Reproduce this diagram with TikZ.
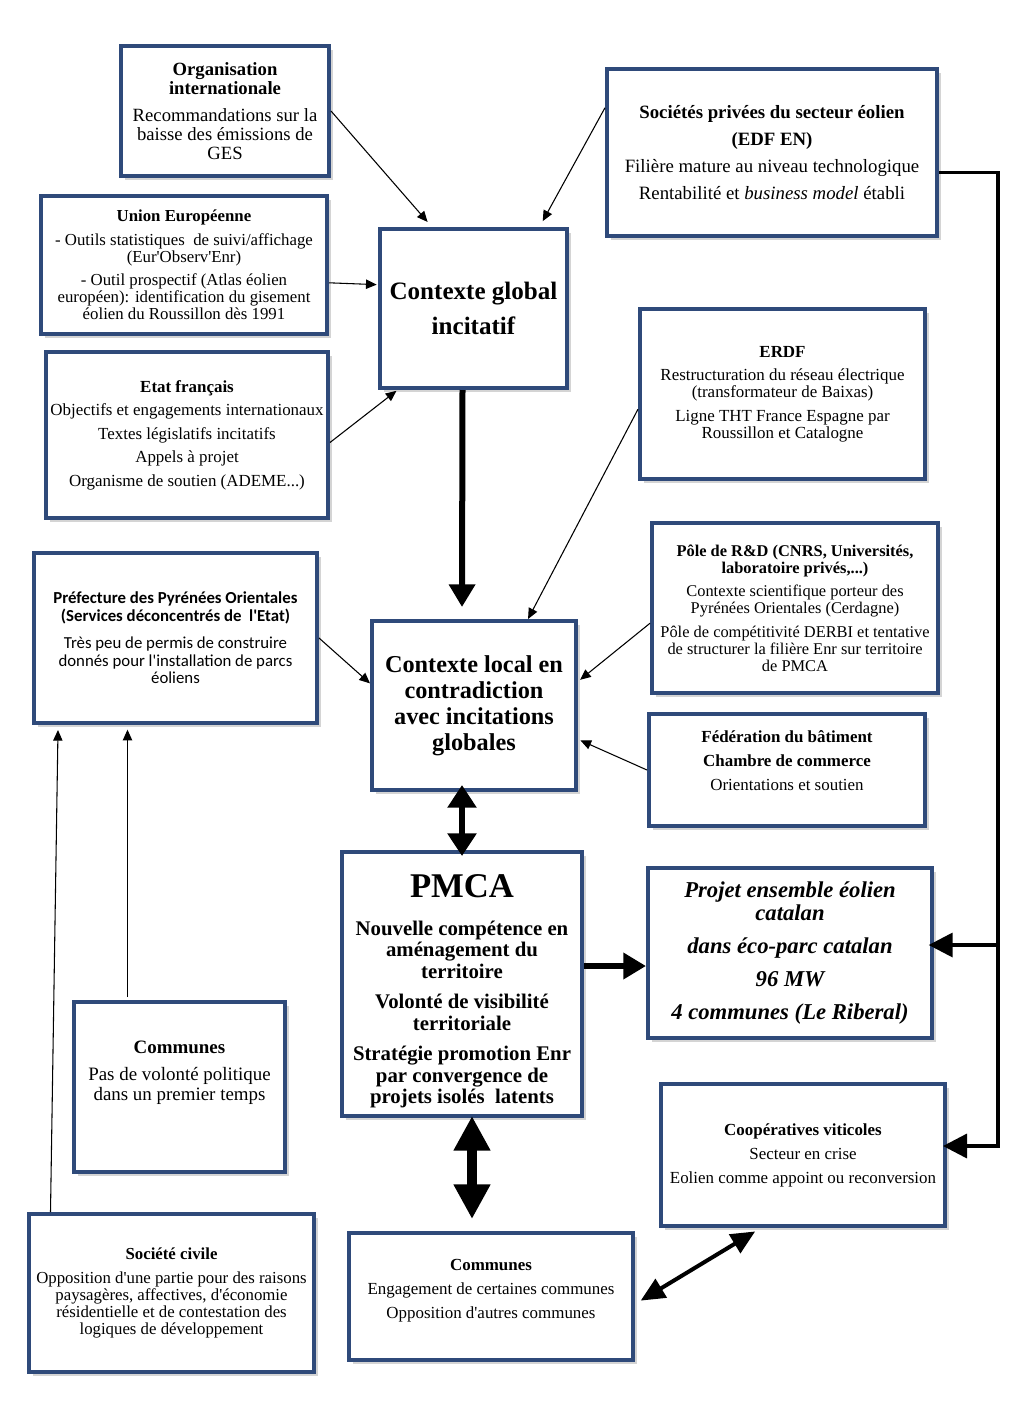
\documentclass[tikz,border=0pt]{standalone}
\usepackage{fontspec}
\setmainfont{Liberation Serif}[Ligatures=TeXOff]
\newfontfamily\calibri{Carlito}[Ligatures=TeXOff]
\usepackage{tikz}
\usetikzlibrary{calc,arrows.meta,shadows}
\definecolor{frame}{HTML}{2F4A7A}
\definecolor{ink}{HTML}{000000}
\tikzset{
  box/.style={draw=frame, line width=3pt, fill=white, align=center, inner sep=2pt,
    drop shadow={shadow xshift=3pt, shadow yshift=-3pt, fill=black!55, opacity=0.3}},
  boxsize/.style 2 args={minimum width=#1*0.75pt, minimum height=#2*0.75pt},
  link/.style={draw=ink, line width=0.8pt, -{Triangle[length=8pt,width=7pt]}},
  heavy/.style={draw=ink, line width=4.5pt, -{Triangle[length=17pt,width=19pt]}},
  heavyboth/.style={draw=ink, line width=4.5pt, {Triangle[length=17pt,width=21pt]}-{Triangle[length=17pt,width=21pt]}},
  hugeboth/.style={draw=ink, line width=7pt, {Triangle[length=26pt,width=26pt]}-{Triangle[length=26pt,width=26pt]}},
  midboth/.style={draw=ink, line width=3pt, {Triangle[length=18pt,width=16pt]}-{Triangle[length=18pt,width=16pt]}},
  rail/.style={draw=ink, line width=2.6pt, line join=miter},
  railtip/.style={-{Triangle[length=18pt,width=18pt]}},
}

\begin{document}
\begin{tikzpicture}[x=0.75pt, y=-0.75pt]
  \fill[white] (0,0) rectangle (1033,1406);
  \useasboundingbox (0,0) rectangle (1033,1406);

  % global context
  \node[box, boxsize={208}{130}, font=\fontsize{14}{14.3}\selectfont] (orgint) at (225,111)
    {\textbf{Organisation}\\\textbf{internationale}\\[6pt]Recommandations sur la\\baisse des émissions de\\GES};
  \node[box, boxsize={286}{138}, font=\fontsize{12.6}{12.75}\selectfont] (ue) at (184,265)
    {\textbf{Union Européenne}\\[5pt]- Outils statistiques\ \ de suivi/affichage\\(Eur'Observ'Enr)\\[5pt]- Outil prospectif (Atlas éolien\\européen): identification du gisement\\éolien du Roussillon dès 1991};
  \node[box, boxsize={282}{166}, font=\fontsize{12.7}{17.6}\selectfont] (etat) at (187,435)
    {\textbf{Etat français}\\Objectifs et engagements internationaux\\Textes législatifs incitatifs\\Appels à projet\\Organisme de soutien (ADEME...)};
  \node[box, boxsize={330}{167}, font=\fontsize{14.1}{20.3}\selectfont] (socpriv) at (772,152.5)
    {\textbf{Sociétés privées du secteur éolien}\\\textbf{(EDF EN)}\\Filière mature au niveau technologique\\Rentabilité et \textit{business model} établi};
  \node[box, boxsize={187}{159}, font=\bfseries\fontsize{18.8}{26}\selectfont] (cglobal) at (473.5,308.5)
    {Contexte global\\incitatif};

  % local context
  \node[box, boxsize={285}{170}, font=\fontsize{12.7}{12.75}\selectfont] (erdf) at (782.5,394)
    {\textbf{ERDF}\\[5pt]Restructuration du réseau électrique\\(transformateur de Baixas)\\[5pt]Ligne THT France Espagne par\\Roussillon et Catalogne};
  \node[box, boxsize={286}{170}, font=\fontsize{12.3}{12.75}\selectfont] (polerd) at (795,608)
    {\textbf{Pôle de R\&D (CNRS, Universités,}\\\textbf{laboratoire privés,...)}\\[5pt]Contexte scientifique porteur des\\Pyrénées Orientales (Cerdagne)\\[5pt]Pôle de compétitivité DERBI et tentative\\de structurer la filière Enr sur territoire\\de PMCA};
  \node[box, boxsize={283}{170}, font=\calibri\fontsize{12.6}{13.3}\selectfont] (prefecture) at (175.5,638)
    {\textbf{Préfecture des Pyrénées Orientales}\\\textbf{(Services déconcentrés de\ \ l'Etat)}\\[7pt]Très peu de permis de construire\\donnés pour l'installation de parcs\\éoliens};
  \node[box, boxsize={204}{169}, font=\bfseries\fontsize{18.2}{19.5}\selectfont] (clocal) at (474,705.5)
    {Contexte local en\\contradiction\\avec incitations\\globales};
  \node[box, boxsize={276}{112}, font=\fontsize{12.7}{18}\selectfont] (federation) at (787,770)
    {\textbf{Fédération du bâtiment}\\\textbf{Chambre de commerce}\\Orientations et soutien\\[-4pt]\mbox{}};

  % PMCA and project
  \node[box, boxsize={240}{264}, font=\bfseries\fontsize{15.6}{16.3}\selectfont] (pmca) at (462,984)
    {{\fontsize{26}{28}\selectfont PMCA}\\[12pt]Nouvelle compétence en\\aménagement du\\territoire\\[6.3pt]Volonté de visibilité\\territoriale\\[6.3pt]Stratégie promotion Enr\\par convergence de\\projets isolés\ \ latents\\[-24pt]\mbox{}};
  \node[box, boxsize={284}{170}, font=\bfseries\itshape\fontsize{17}{17.3}\selectfont] (projet) at (790,953)
    {Projet ensemble éolien\\catalan\\[7.5pt]dans éco-parc catalan\\[7pt]96 MW\\[7.5pt]4 communes (Le Riberal)};
  \node[box, boxsize={211}{170}, font=\fontsize{14.2}{15}\selectfont] (communesg) at (179.5,1087)
    {\textbf{Communes}\\[5pt]Pas de volonté politique\\dans un premier temps\\[9pt]\mbox{}};
  \node[box, boxsize={284}{142}, font=\fontsize{12.7}{18}\selectfont] (coop) at (803,1155)
    {\textbf{Coopératives viticoles}\\Secteur en crise\\Eolien comme appoint ou reconversion};
  \node[box, boxsize={285}{158}, font=\fontsize{12.6}{12.75}\selectfont] (societe) at (171.5,1293)
    {\textbf{Société civile}\\[5pt]Opposition d'une partie pour des raisons\\paysagères, affectives, d'économie\\résidentielle et de contestation des\\logiques de développement};
  \node[box, boxsize={284}{127}, font=\fontsize{12.7}{18}\selectfont] (communesb) at (491,1296.5)
    {\textbf{Communes}\\Engagement de certaines communes\\Opposition d'autres communes\\[-6pt]\mbox{}};

  % thin arrows
  \draw[link, shorten >=5pt] (orgint.east) -- (cglobal.117);
  \draw[link, shorten >=5pt] (socpriv.165) -- (cglobal.51);
  \draw[link, shorten >=1pt] (ue.-7) -- (cglobal.166);
  \draw[link, shorten >=1pt] (etat.-3) -- (cglobal.227);
  \draw[link] (erdf.186) -- (clocal.58);
  \draw[link, shorten >=2pt] (polerd.186) -- (clocal.13);
  \draw[link, shorten >=2pt] (federation.west) -- (clocal.-18);
  \draw[link] (prefecture.east) -- (clocal.168);
  \draw[link, shorten >=3.5pt] ($(communesg.north)+(-52,-3)$) coordinate (g0) -- (g0 |- prefecture.south);
  \draw[link] ($(societe.north)+(-121,0)$) -- ($(prefecture.south)+(-117.5,5)$);

  % thick arrows
  \draw[heavy] ($(cglobal.south)+(-11,0)$) -- ($(clocal.north)+(-12,-12)$);
  \draw[heavyboth] ($(clocal.south)+(-12,-7)$) -- ($(pmca.north)+(0,6)$);
  \draw[heavy] ($(pmca.east)+(0,-18)$) coordinate (p0) -- (p0 -| projet.west);
  \draw[hugeboth, shorten <=-1.5pt, shorten >=9pt] ($(pmca.south)+(10,0)$) coordinate (q0) -- (q0 |- communesb.north);
  \draw[midboth, shorten <=5pt, shorten >=5pt] (coop.240) -- (communesb.357);

  % rail from the private companies
  \coordinate (bus) at (998,0);
  \coordinate (coopin) at ($(coop.east)+(0,-9)$);
  \coordinate (projin) at ($(projet.east)+(0,-8)$);
  \draw[rail, railtip, shorten >=-3pt] ($(socpriv.east)+(0,20)$) coordinate (r0) -- (r0 -| bus) -- (bus |- coopin) -- (coopin);
  \draw[rail, railtip, shorten >=-4pt] (bus |- projin) -- (projin);
\end{tikzpicture}
\end{document}
